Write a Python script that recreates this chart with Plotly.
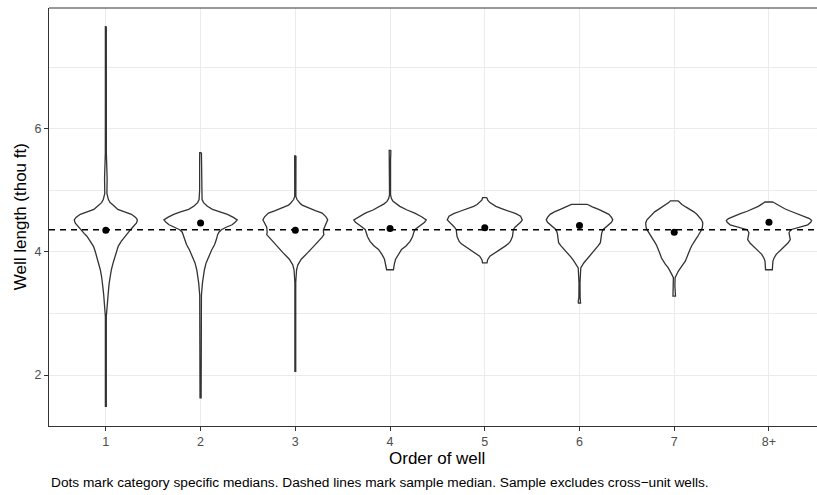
import plotly.graph_objects as go

# ---------------- data ----------------
categories = ["1", "2", "3", "4", "5", "6", "7", "8+"]
medians = [4.35, 4.47, 4.35, 4.38, 4.39, 4.43, 4.32, 4.48]
sample_median = 4.36

# violin profiles: well length (thou ft) and relative density (1 = widest)
v1_len = [7.66, 6.5, 5.6, 5.2, 4.95, 4.85, 4.80, 4.76, 4.72, 4.69, 4.65, 4.61, 4.56, 4.52, 4.47, 4.44, 4.40, 4.36, 4.30, 4.25, 4.17, 4.09, 4.01, 3.93, 3.82, 3.71, 3.60, 3.50, 3.40, 3.30, 3.20, 3.10, 2.95, 1.49]
v1_den = [0.011, 0.011, 0.012, 0.03, 0.025, 0.06, 0.10, 0.17, 0.23, 0.28, 0.44, 0.60, 0.70, 0.74, 0.72, 0.67, 0.63, 0.58, 0.51, 0.44, 0.36, 0.29, 0.25, 0.21, 0.17, 0.13, 0.10, 0.08, 0.065, 0.05, 0.035, 0.022, 0.011, 0.011]

v2_len = [5.61, 5.4, 5.0, 4.85, 4.80, 4.77, 4.74, 4.69, 4.65, 4.61, 4.56, 4.52, 4.48, 4.44, 4.40, 4.36, 4.32, 4.28, 4.20, 4.12, 4.03, 3.93, 3.82, 3.71, 3.60, 3.50, 3.30, 1.63]
v2_den = [0.02, 0.022, 0.022, 0.035, 0.07, 0.11, 0.16, 0.28, 0.47, 0.63, 0.77, 0.86, 0.81, 0.74, 0.60, 0.49, 0.43, 0.40, 0.37, 0.33, 0.26, 0.19, 0.13, 0.09, 0.065, 0.045, 0.02, 0.013]

v3_len = [5.56, 5.45, 5.3, 4.90, 4.85, 4.82, 4.79, 4.76, 4.71, 4.67, 4.63, 4.57, 4.52, 4.48, 4.44, 4.40, 4.36, 4.32, 4.28, 4.24, 4.20, 4.15, 4.09, 3.98, 3.88, 3.79, 3.71, 3.5, 2.2, 2.1, 2.06]
v3_den = [0.015, 0.015, 0.01, 0.013, 0.04, 0.07, 0.11, 0.16, 0.31, 0.47, 0.63, 0.72, 0.76, 0.73, 0.70, 0.67, 0.66, 0.66, 0.67, 0.63, 0.58, 0.51, 0.43, 0.28, 0.14, 0.06, 0.03, 0.01, 0.01, 0.015, 0.01]

v4_len = [5.65, 5.5, 4.93, 4.87, 4.82, 4.78, 4.74, 4.68, 4.63, 4.57, 4.52, 4.48, 4.44, 4.40, 4.36, 4.30, 4.25, 4.17, 4.10, 4.04, 3.96, 3.88, 3.80, 3.71]
v4_den = [0.02, 0.012, 0.012, 0.03, 0.07, 0.14, 0.23, 0.40, 0.58, 0.74, 0.85, 0.81, 0.74, 0.65, 0.58, 0.55, 0.53, 0.47, 0.38, 0.27, 0.19, 0.13, 0.10, 0.08]

v5_len = [4.88, 4.84, 4.80, 4.77, 4.74, 4.70, 4.66, 4.62, 4.58, 4.52, 4.48, 4.44, 4.40, 4.36, 4.30, 4.25, 4.17, 4.13, 4.09, 4.03, 3.98, 3.93, 3.87, 3.82]
v5_den = [0.05, 0.07, 0.12, 0.18, 0.26, 0.41, 0.58, 0.73, 0.84, 0.88, 0.84, 0.77, 0.71, 0.67, 0.66, 0.65, 0.60, 0.55, 0.47, 0.35, 0.23, 0.12, 0.065, 0.053]

v6_len = [4.77, 4.73, 4.69, 4.65, 4.61, 4.56, 4.52, 4.48, 4.44, 4.40, 4.36, 4.30, 4.25, 4.15, 4.10, 4.04, 3.98, 3.93, 3.87, 3.82, 3.74, 3.5, 3.25, 3.20, 3.17]
v6_den = [0.19, 0.30, 0.45, 0.59, 0.69, 0.75, 0.78, 0.75, 0.69, 0.62, 0.55, 0.52, 0.51, 0.49, 0.44, 0.37, 0.29, 0.22, 0.15, 0.10, 0.03, 0.012, 0.015, 0.03, 0.025]

v7_len = [4.83, 4.80, 4.77, 4.73, 4.69, 4.65, 4.61, 4.56, 4.52, 4.47, 4.44, 4.40, 4.36, 4.30, 4.25, 4.20, 4.15, 4.10, 4.04, 3.96, 3.90, 3.85, 3.80, 3.74, 3.68, 3.63, 3.58, 3.44, 3.32, 3.28]
v7_den = [0.09, 0.13, 0.18, 0.27, 0.37, 0.46, 0.53, 0.59, 0.64, 0.67, 0.67, 0.66, 0.64, 0.60, 0.55, 0.50, 0.45, 0.41, 0.37, 0.33, 0.30, 0.26, 0.21, 0.14, 0.09, 0.055, 0.02, 0.015, 0.03, 0.03]

v8_len = [4.81, 4.78, 4.74, 4.70, 4.66, 4.62, 4.58, 4.54, 4.51, 4.48, 4.44, 4.40, 4.36, 4.31, 4.25, 4.20, 4.14, 4.09, 4.02, 3.96, 3.90, 3.85, 3.78, 3.71]
v8_den = [0.093, 0.16, 0.25, 0.37, 0.51, 0.67, 0.83, 0.95, 1.0, 0.98, 0.91, 0.70, 0.51, 0.47, 0.48, 0.50, 0.44, 0.37, 0.26, 0.17, 0.12, 0.093, 0.085, 0.08]

y_ticks = [2, 4, 6]

profiles = [(v1_len, v1_den), (v2_len, v2_den), (v3_len, v3_den), (v4_len, v4_den),
            (v5_len, v5_den), (v6_len, v6_den), (v7_len, v7_den), (v8_len, v8_den)]

# ---------------- styling ----------------
FONT = "Liberation Sans, Arial, Helvetica, sans-serif"
MAX_HALF = 0.45
X_RANGE = [0.4, 8.507]
Y_RANGE = [1.172, 7.961]
OUTLINE = "#333333"
GRID = "#EBEBEB"

fig = go.Figure()

for i, (lens, dens) in enumerate(profiles):
    c = i + 1
    xs = [c + d * MAX_HALF for d in dens] + [c - d * MAX_HALF for d in reversed(dens)]
    ys = list(lens) + list(reversed(lens))
    xs.append(xs[0])
    ys.append(ys[0])
    fig.add_trace(go.Scatter(
        x=xs, y=ys, mode="lines", fill="toself", fillcolor="white",
        line=dict(color=OUTLINE, width=1.3),
        hoverinfo="skip", showlegend=False))

fig.add_trace(go.Scatter(
    x=X_RANGE, y=[sample_median, sample_median], mode="lines",
    line=dict(color="black", width=1.6, dash="6px,5px"),
    hoverinfo="skip", showlegend=False))

fig.add_trace(go.Scatter(
    x=list(range(1, len(categories) + 1)), y=medians, mode="markers",
    marker=dict(color="black", size=7),
    hoverinfo="skip", showlegend=False))

fig.update_layout(
    width=817, height=495,
    margin=dict(l=49, r=0, t=8, b=69),
    paper_bgcolor="white", plot_bgcolor="white",
    font=dict(family=FONT, color="#4D4D4D", size=12),
    showlegend=False,
    xaxis=dict(
        range=X_RANGE, tickmode="array", tickvals=list(range(1, len(categories) + 1)),
        ticktext=categories, showgrid=True, gridcolor=GRID, gridwidth=1.1,
        zeroline=False, showline=True, linecolor=OUTLINE, linewidth=1.1,
        ticks="outside", ticklen=4, tickcolor=OUTLINE, tickwidth=1.1,
        tickfont=dict(size=12.5, color="#4D4D4D", family=FONT)),
    yaxis=dict(
        range=Y_RANGE, tickmode="array", tickvals=y_ticks,
        showgrid=True, gridcolor=GRID, gridwidth=1.1,
        minor=dict(dtick=1, tick0=1, showgrid=True, gridcolor=GRID, gridwidth=0.6, ticks=""),
        zeroline=False, showline=True, linecolor=OUTLINE, linewidth=1.1,
        ticks="outside", ticklen=4, tickcolor=OUTLINE, tickwidth=1.1,
        tickfont=dict(size=12.5, color="#4D4D4D", family=FONT)),
)

# top border of panel (right edge falls outside the picture)
fig.add_shape(type="line", xref="paper", yref="paper", x0=0, x1=1, y0=1, y1=1,
              line=dict(color=OUTLINE, width=1.1), layer="above")

fig.add_annotation(text="Order of well", xref="paper", yref="paper",
                   x=0.5053, y=-0.0766, xanchor="center", yanchor="middle",
                   showarrow=False, font=dict(size=17, color="black", family=FONT))
fig.add_annotation(text="Well length (thou ft)", xref="paper", yref="paper",
                   x=-0.0375, y=0.5, xanchor="center", yanchor="middle", textangle=-90,
                   showarrow=False, font=dict(size=17, color="black", family=FONT))
fig.add_annotation(text="Dots mark category specific medians. Dashed lines mark sample median. Sample excludes cross\u2212unit wells.",
                   xref="paper", yref="paper", x=0.0, y=-0.134, xanchor="left", yanchor="middle",
                   showarrow=False, font=dict(size=13.7, color="black", family=FONT))

fig.write_html("out.html")
